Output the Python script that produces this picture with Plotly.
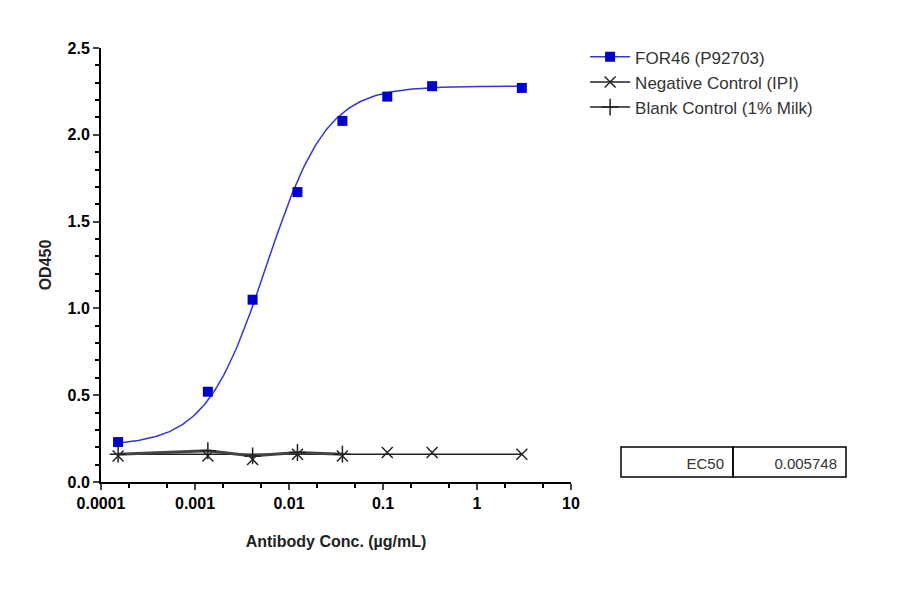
import numpy as np
import plotly.graph_objects as go

conc = [3.0, 0.333, 0.111, 0.037, 0.0123, 0.0041, 0.00137, 0.000152]
for46 = [2.27, 2.28, 2.22, 2.08, 1.67, 1.05, 0.52, 0.23]
neg_ctrl = [0.16, 0.17, 0.17, 0.15, 0.16, 0.13, 0.15, 0.15]
blank_conc = [0.037, 0.0123, 0.0041, 0.00137, 0.000152]
blank_ctrl = [0.16, 0.17, 0.15, 0.18, 0.16]

# 4PL fit parameters
bottom, top, ec50, hill = 0.21, 2.28, 0.005748, 1.35

xs = np.logspace(np.log10(0.000152), np.log10(3.0), 200)
fit = bottom + (top - bottom) / (1 + (ec50 / xs) ** hill)

blue_line = dict(color="#3333dd", width=1.5)
blue_marker = dict(symbol="square", size=10, color="#0000cc")
neg_marker = dict(symbol="x-thin-open", size=11, color="#222", line=dict(width=1.5, color="#222"))
blank_marker = dict(symbol="cross-thin-open", size=12, color="#222", line=dict(width=1.5, color="#222"))

fig = go.Figure()
fig.add_trace(go.Scatter(x=xs, y=fit, mode="lines", line=blue_line, showlegend=False, hoverinfo="skip"))
fig.add_trace(go.Scatter(x=conc, y=for46, mode="markers", marker=blue_marker, showlegend=False))
fig.add_trace(go.Scatter(x=[0.000152, 3.0], y=[0.16, 0.16], mode="lines", showlegend=False,
                         line=dict(color="#222", width=1.5), hoverinfo="skip"))
fig.add_trace(go.Scatter(x=conc, y=neg_ctrl, mode="markers", marker=neg_marker, showlegend=False))
fig.add_trace(go.Scatter(x=blank_conc, y=blank_ctrl, mode="lines+markers", showlegend=False,
                         line=dict(color="#444", width=3), marker=blank_marker))

# legend entries
for name, marker, line in [("FOR46 (P92703)", blue_marker, blue_line),
                           ("Negative Control (IPI)", neg_marker, dict(color="#222", width=1.5)),
                           ("Blank Control (1% Milk)", blank_marker, dict(color="#222", width=1.5))]:
    fig.add_trace(go.Scatter(x=[None], y=[None], mode="lines+markers", name=name, marker=marker, line=line))

tickvals = [0.0001, 0.001, 0.01, 0.1, 1, 10]
ticktext = ["0.0001", "0.001", "0.01", "0.1", "1", "10"]
tickfont = dict(size=16, color="black", family="Liberation Sans, Arial", weight="bold")

fig.update_layout(
    width=900, height=594, plot_bgcolor="white", paper_bgcolor="white",
    margin=dict(l=93, r=337, t=40, b=120),
    font=dict(family="Liberation Sans, Arial", color="#222", size=16),
    legend=dict(x=1.03, y=1.02, xanchor="left", yanchor="top", font=dict(size=17, color="#333"),
                bgcolor="rgba(0,0,0,0)", itemwidth=40),
    xaxis=dict(type="log", range=[-4, 1], tickvals=tickvals, ticktext=ticktext,
               showline=True, linecolor="black", linewidth=2, ticks="outside",
               ticklen=6, tickwidth=2, showgrid=False, zeroline=False,
               minor=dict(ticks="outside", ticklen=4, tickwidth=1.5, tickcolor="black"),
               tickfont=tickfont,
               title=dict(text="<b>Antibody Conc. (µg/mL)</b>", font=dict(size=16), standoff=25)),
    yaxis=dict(range=[0, 2.5], dtick=0.5, tickformat=".1f", showline=True, linecolor="black",
               linewidth=2, ticks="outside", ticklen=6, tickwidth=2, showgrid=False, zeroline=False,
               minor=dict(ticks="outside", ticklen=4, tickwidth=1.5, tickcolor="black", dtick=0.1),
               tickfont=tickfont,
               title=dict(text="<b>OD450</b>", font=dict(size=16), standoff=12)),
)

# EC50 table (paper coords relative to plot area 100..570 x, 48..482 y)
def px(xp): return (xp - 100) / 470
def py(yp): return (482 - yp) / 434
y0, y1 = 447, 477
for a, b, txt in [(620, 732, "EC50"), (732, 845, f"{ec50:.6f}")]:
    fig.add_shape(type="rect", xref="paper", yref="paper", x0=px(a), x1=px(b), y0=py(y1), y1=py(y0),
                  line=dict(color="black", width=1.5),
                  label=dict(text=txt, textposition="middle right", padding=6,
                             font=dict(size=15, color="#333")))

fig.write_html("out.html")
